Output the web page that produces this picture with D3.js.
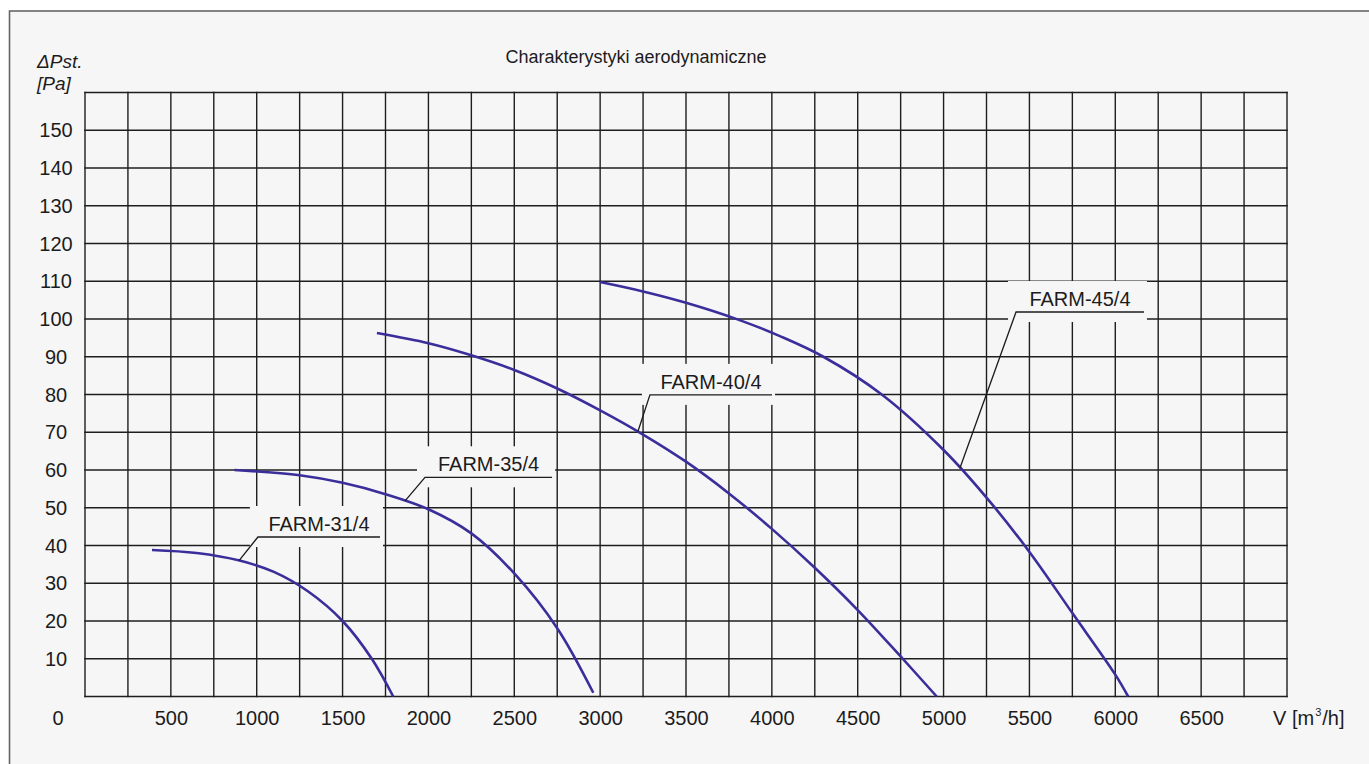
<!DOCTYPE html>
<html>
<head>
<meta charset="utf-8">
<script src="https://cdn.jsdelivr.net/npm/d3@7"></script>
<style>
  body { margin: 0; background: #ffffff; }
  text { font-family: Arial, "Liberation Sans", sans-serif; fill: #1c1c1c; }
</style>
</head>
<body>
<div id="vis"></div>
<script>
const WIDTH = 1369;
const HEIGHT = 764;
const margin = { top: 92.5, bottom: 67.5, left: 85, right: 82 };

// tick values
const xTicks = [500, 1000, 1500, 2000, 2500, 3000, 3500, 4000, 4500, 5000, 5500, 6000, 6500];
const yTicks = [10, 20, 30, 40, 50, 60, 70, 80, 90, 100, 110, 120, 130, 140, 150];

// curves: [V m3/h, dPst Pa]
const farm31 = [[390, 38.8], [650, 38], [900, 36], [1100, 33], [1300, 27.8], [1500, 20], [1670, 10], [1795, 0]];
const farm35 = [[870, 60], [1250, 58.6], [1500, 56.6], [1750, 53.6], [2000, 49.6], [2250, 43.2], [2500, 32.6], [2750, 18.1], [2960, 1]];
const farm40 = [[1700, 96.3], [2000, 93.6], [2250, 90.4], [2500, 86.5], [2750, 81.6], [3000, 75.8], [3250, 69.4], [3500, 62.2],
  [3750, 53.8], [4000, 44.4], [4250, 34.1], [4500, 22.9], [4750, 10.6], [4960, 0]];
const farm45 = [[3000, 109.8], [3250, 107.3], [3500, 104.3], [3800, 99.9], [4050, 95.4], [4300, 90], [4640, 80], [5000, 65.3],
  [5250, 52.7], [5500, 38.3], [5750, 22.1], [6000, 5.8], [6075, 0]];

const names = ["FARM-31/4", "FARM-35/4", "FARM-40/4", "FARM-45/4"];
const curves = [farm31, farm35, farm40, farm45];

// label leaders in data units: point on curve, start and end of the underline
const leaderPoint = [[897, 36], [1864, 51.8], [3220, 70.2], [5096, 60.6]];
const underlineFrom = [[1007, 42.25], [1980, 58.07], [3290, 79.9], [5422, 101.85]];
const underlineTo = [1718, 2720, 4001, 6167];

const svg = d3.select("#vis").append("svg")
  .attr("width", WIDTH)
  .attr("height", HEIGHT);

// frame
svg.append("rect")
  .attr("x", 9.5).attr("y", 11)
  .attr("width", 1400).attr("height", 800)
  .attr("fill", "#f7f6f7")
  .attr("stroke", "#666")
  .attr("stroke-width", 1.6);

const x = d3.scaleLinear().domain([0, 7000]).range([margin.left, WIDTH - margin.right]);
const y = d3.scaleLinear().domain([0, 160]).range([HEIGHT - margin.bottom, margin.top]);

// grid
const grid = svg.append("g").attr("stroke", "#1e1e1e").attr("stroke-width", 1.4);
grid.selectAll("line.v")
  .data(d3.range(0, 7001, 250))
  .join("line")
  .attr("class", "v")
  .attr("x1", (d) => x(d)).attr("x2", (d) => x(d))
  .attr("y1", y(0) + 0.7).attr("y2", y(160) - 0.7);
grid.selectAll("line.h")
  .data(d3.range(0, 161, 10))
  .join("line")
  .attr("class", "h")
  .attr("x1", x(0) - 0.7).attr("x2", x(7000) + 0.7)
  .attr("y1", (d) => y(d)).attr("y2", (d) => y(d));

// axes (labels only)
const ejeX = d3.axisBottom(x).tickValues(xTicks).tickFormat(d3.format("d")).tickSize(0).tickPadding(0);
const gx = svg.append("g")
  .attr("transform", `translate(0, ${y(0)})`)
  .call(ejeX);
gx.select(".domain").remove();
gx.selectAll("text")
  .attr("dy", null)
  .attr("y", 28.5)
  .style("font-size", "20px")
  .attr("fill", "#1c1c1c");

const ejeY = d3.axisLeft(y).tickValues(yTicks).tickFormat(d3.format("d")).tickSize(0);
const gy = svg.append("g")
  .attr("transform", `translate(${margin.left}, 0)`)
  .call(ejeY);
gy.select(".domain").remove();
gy.selectAll("text")
  .attr("dy", null)
  .attr("x", -29)
  .attr("y", 6.5)
  .attr("text-anchor", "middle")
  .style("font-size", "20px")
  .attr("fill", "#1c1c1c");

// zero at the corner
svg.append("text")
  .attr("x", 58).attr("y", y(0) + 28.5)
  .attr("text-anchor", "middle")
  .style("font-size", "20px")
  .text("0");

// unit on x
const vLabel = svg.append("text")
  .attr("x", 1273).attr("y", y(0) + 28.5)
  .style("font-size", "20px");
vLabel.append("tspan").text("V [m");
vLabel.append("tspan").attr("dx", 1).attr("dy", -9).style("font-size", "11px").text("3");
vLabel.append("tspan").attr("dx", 1).attr("dy", 9).text("/h]");

// unit on y
svg.append("text")
  .attr("x", 37).attr("y", 68)
  .style("font-size", "19px").style("font-style", "italic")
  .text("\u0394Pst.");
svg.append("text")
  .attr("x", 37).attr("y", 90)
  .style("font-size", "19px").style("font-style", "italic")
  .text("[Pa]");

// title
svg.append("text")
  .attr("x", 636).attr("y", 62.5)
  .attr("text-anchor", "middle")
  .style("font-size", "18px")
  .text("Charakterystyki aerodynamiczne");

// masks behind labels
svg.append("g").selectAll("rect")
  .data(names)
  .join("rect")
  .attr("x", (d, i) => x(underlineFrom[i][0]) - 8)
  .attr("y", (d, i) => y(underlineFrom[i][1]) - 31)
  .attr("width", (d, i) => x(underlineTo[i]) - x(underlineFrom[i][0]) + 11)
  .attr("height", 41)
  .attr("fill", "#f7f6f7");

// curves
const line = d3.line()
  .x((d) => x(d[0]))
  .y((d) => y(d[1]))
  .curve(d3.curveCatmullRom.alpha(0.5));

svg.append("g").selectAll("path")
  .data(curves)
  .join("path")
  .attr("d", line)
  .attr("fill", "none")
  .attr("stroke", "#3a2e9b")
  .attr("stroke-width", 2.6);

// leaders
const leaders = svg.append("g").attr("stroke", "#1c1c1c").attr("stroke-width", 1.3).attr("fill", "none");
leaders.selectAll("polyline")
  .data(names)
  .join("polyline")
  .attr("points", (d, i) => [
    [x(leaderPoint[i][0]), y(leaderPoint[i][1])],
    [x(underlineFrom[i][0]), y(underlineFrom[i][1])],
    [x(underlineTo[i]), y(underlineFrom[i][1])],
  ].map((p) => p.join(",")).join(" "));

svg.append("g").selectAll("text")
  .data(names)
  .join("text")
  .attr("x", (d, i) => (x(underlineFrom[i][0]) + x(underlineTo[i])) / 2)
  .attr("y", (d, i) => y(underlineFrom[i][1]) - 6)
  .attr("text-anchor", "middle")
  .style("font-size", "20px")
  .text((d) => d);
</script>
</body>
</html>
